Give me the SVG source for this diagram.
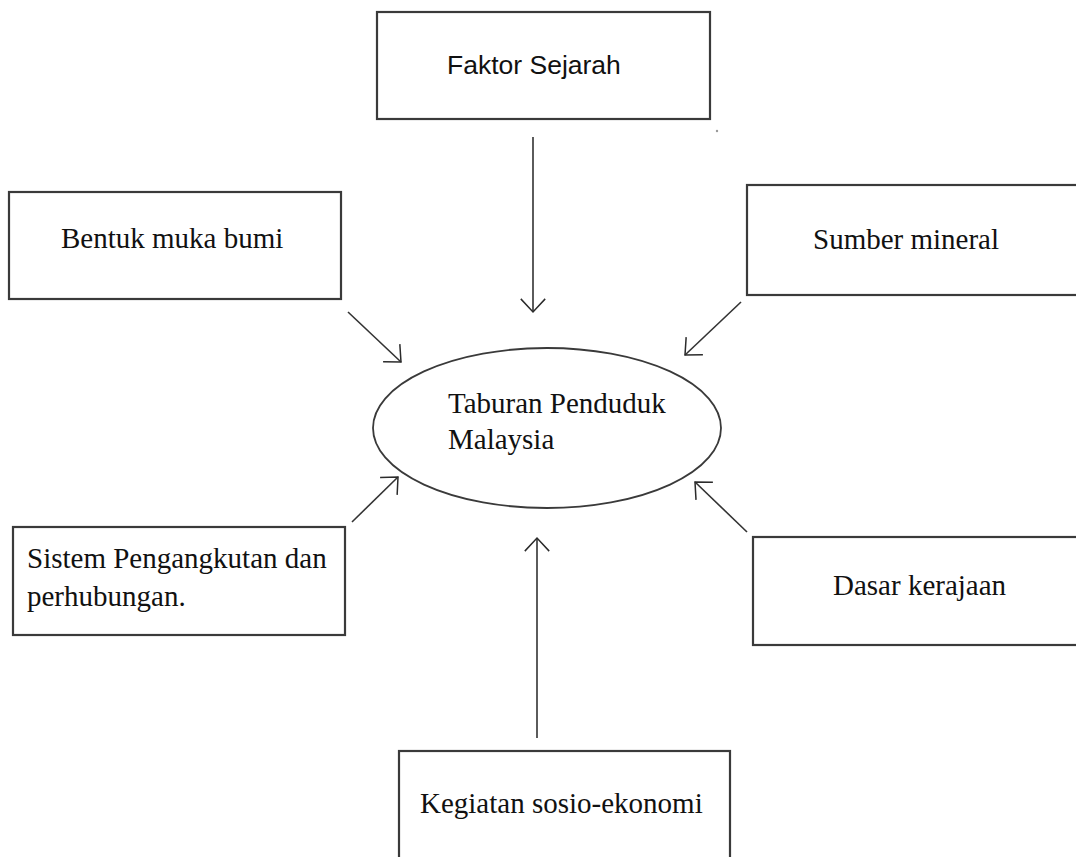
<svg xmlns="http://www.w3.org/2000/svg" width="1076" height="857" viewBox="0 0 1076 857">
  <defs>
    <marker id="arrow" markerUnits="userSpaceOnUse" markerWidth="30" markerHeight="30" refX="0" refY="0" viewBox="-16 -16 32 32" orient="auto" overflow="visible">
      <path d="M -14 -13 L 0 0 L -14 13" fill="none" stroke="#2b2b2b" stroke-width="1.6"/>
    </marker>
  </defs>
  <style>
    .box { fill: #ffffff; stroke: #3a3a3a; stroke-width: 2.2; }
    .ell { fill: #ffffff; stroke: #3a3a3a; stroke-width: 1.8; }
    .serif { font-family: "Liberation Serif", "Times New Roman", serif; font-size: 29px; fill: #111111; }
    .sans { font-family: "Liberation Sans", Arial, sans-serif; font-size: 26.5px; fill: #111111; }
    .conn { stroke: #333333; stroke-width: 1.6; fill: none; marker-end: url(#arrow); }
  </style>
  <rect width="1076" height="857" fill="#ffffff"/>

  <g id="connectors">
    <line class="conn" x1="533" y1="137" x2="533" y2="312"/>
    <line class="conn" x1="348" y1="312" x2="401" y2="362"/>
    <line class="conn" x1="741" y1="302" x2="685" y2="355"/>
    <line class="conn" x1="352" y1="522" x2="398" y2="477"/>
    <line class="conn" x1="747" y1="532" x2="695" y2="482"/>
    <line class="conn" x1="537" y1="738" x2="537" y2="538"/>
  </g>

  <g id="node-faktor-sejarah">
    <rect class="box" x="377" y="12" width="333" height="107"/>
    <text class="sans" x="447" y="74">Faktor Sejarah</text>
  </g>

  <g id="node-bentuk-muka-bumi">
    <rect class="box" x="9" y="192" width="332" height="107"/>
    <text class="serif" x="61" y="248">Bentuk muka bumi</text>
  </g>

  <g id="node-sumber-mineral">
    <rect class="box" x="747" y="185" width="340" height="110"/>
    <text class="serif" x="813" y="249">Sumber mineral</text>
  </g>

  <g id="node-taburan-penduduk">
    <ellipse class="ell" cx="547" cy="428" rx="174" ry="80"/>
    <text class="serif" x="448" y="413">Taburan Penduduk</text>
    <text class="serif" x="448" y="449">Malaysia</text>
  </g>

  <g id="node-sistem-pengangkutan">
    <rect class="box" x="13" y="527" width="332" height="108"/>
    <text class="serif" x="27" y="568">Sistem Pengangkutan dan</text>
    <text class="serif" x="27" y="606">perhubungan.</text>
  </g>

  <g id="node-dasar-kerajaan">
    <rect class="box" x="753" y="537" width="334" height="108"/>
    <text class="serif" x="833" y="595">Dasar kerajaan</text>
  </g>

  <g id="node-kegiatan-sosio-ekonomi">
    <rect class="box" x="399" y="751" width="331" height="120"/>
    <text class="serif" x="420" y="813">Kegiatan sosio-ekonomi</text>
  </g>

  <circle cx="717" cy="131" r="1.2" fill="#999999"/>
</svg>
